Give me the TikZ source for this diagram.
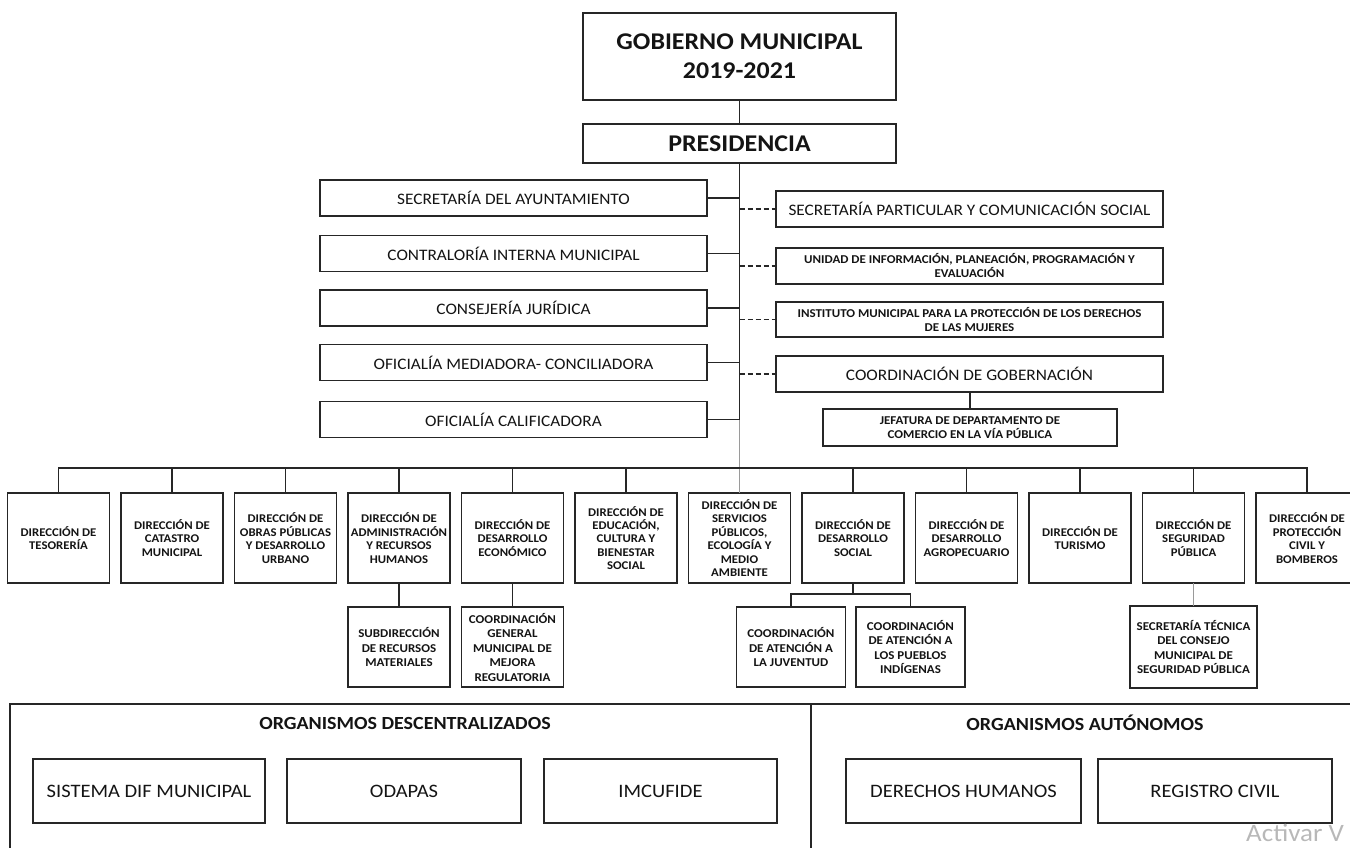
\documentclass[tikz,border=0pt]{standalone}
\usepackage{fontspec}
\setmainfont{Carlito}[FakeStretch=1.08]
\definecolor{ink}{HTML}{141414}
\definecolor{edge}{HTML}{262626}
\definecolor{grayline}{HTML}{9A9A9A}
\definecolor{wm}{HTML}{B8B8B8}
\tikzset{
 box/.style={draw=edge, line width=1.4pt, fill=white, inner sep=0pt, outer sep=0pt, align=center, text=ink},
 headbox/.style={box, minimum width=313pt, font=\fontsize{24}{29}\selectfont\bfseries},
 unitbox/.style={box, minimum width=387pt, minimum height=36pt, font=\fontsize{16}{18}\selectfont},
 unitsmall/.style={box, minimum width=387pt, minimum height=36pt, font=\fontsize{12}{14}\selectfont\bfseries},
 dirbox/.style={box, minimum width=102pt, minimum height=90pt, font=\fontsize{11.8}{13.4}\selectfont\bfseries},
 subbox/.style={box, minimum width=102pt, minimum height=80pt, font=\fontsize{12}{14.5}\selectfont\bfseries},
 orgbox/.style={box, minimum height=64pt, font=\fontsize{19}{22}\selectfont},
 orghead/.style={inner sep=0pt, text=ink, font=\fontsize{18.5}{22}\selectfont\bfseries},
 link/.style={draw=edge, line width=1.3pt},
 dlink/.style={draw=edge, line width=1.2pt, dash pattern=on 5pt off 3pt},
 glink/.style={draw=grayline, line width=1.7pt},
}
\begin{document}
\begin{tikzpicture}[x=1pt,y=-1pt]
\useasboundingbox (0,0) rectangle (1350,848);
% top
\node[headbox, minimum height=87pt] (gob) at (739.5,56.5) {GOBIERNO MUNICIPAL\\2019-2021};
\node[headbox, minimum height=39pt] (pres) at (739.5,143.5) {PRESIDENCIA};
\draw[link] (gob) -- (pres);
% left column
\node[unitbox] (sa) at (513.5,198) {SECRETARÍA DEL AYUNTAMIENTO};
\node[unitbox] (ci) at (513.5,253.5) {CONTRALORÍA INTERNA MUNICIPAL};
\node[unitbox] (cj) at (513.5,308) {CONSEJERÍA JURÍDICA};
\node[unitbox] (om) at (513.5,362.5) {OFICIALÍA MEDIADORA- CONCILIADORA};
\node[unitbox] (oc) at (513.5,419.5) {OFICIALÍA CALIFICADORA};
% right column
\node[unitbox] (sp) at (969.5,209) {SECRETARÍA PARTICULAR Y COMUNICACIÓN SOCIAL};
\node[unitsmall] (ui) at (969.5,266) {UNIDAD DE INFORMACIÓN, PLANEACIÓN, PROGRAMACIÓN Y\\EVALUACIÓN};
\node[unitsmall, minimum height=35pt] (im) at (969.5,319.5) {INSTITUTO MUNICIPAL PARA LA PROTECCIÓN DE LOS DERECHOS\\DE LAS MUJERES};
\node[unitbox] (cg) at (969.5,374) {COORDINACIÓN DE GOBERNACIÓN};
\node[unitsmall, minimum width=294pt, minimum height=37pt] (jf) at (970,427.5) {JEFATURA DE DEPARTAMENTO DE\\COMERCIO EN LA VÍA PÚBLICA};
\draw[link] (cg.south -| jf.north) -- (jf.north);
% directions row
\node[dirbox] (d1) at (58.5,538) {DIRECCIÓN DE\\TESORERÍA};
\node[dirbox] (d2) at (172,538) {DIRECCIÓN DE\\CATASTRO\\MUNICIPAL};
\node[dirbox] (d3) at (285.5,538) {DIRECCIÓN DE\\OBRAS PÚBLICAS\\Y DESARROLLO\\URBANO};
\node[dirbox] (d4) at (399,538) {DIRECCIÓN DE\\ADMINISTRACIÓN\\Y RECURSOS\\HUMANOS};
\node[dirbox] (d5) at (512.5,538) {DIRECCIÓN DE\\DESARROLLO\\ECONÓMICO};
\node[dirbox] (d6) at (626,538) {DIRECCIÓN DE\\EDUCACIÓN,\\CULTURA Y\\BIENESTAR\\SOCIAL};
\node[dirbox] (d7) at (739.5,538) {DIRECCIÓN DE\\SERVICIOS\\PÚBLICOS,\\ECOLOGÍA Y\\MEDIO\\AMBIENTE};
\node[dirbox] (d8) at (853,538) {DIRECCIÓN DE\\DESARROLLO\\SOCIAL};
\node[dirbox] (d9) at (966.5,538) {DIRECCIÓN DE\\DESARROLLO\\AGROPECUARIO};
\node[dirbox] (d10) at (1080,538) {DIRECCIÓN DE\\TURISMO};
\node[dirbox] (d11) at (1193.5,538) {DIRECCIÓN DE\\SEGURIDAD\\PÚBLICA};
\node[dirbox] (d12) at (1307,538) {DIRECCIÓN DE\\PROTECCIÓN\\CIVIL Y\\BOMBEROS};
% main trunk
\coordinate (mj) at (pres.south |- oc.east);
\draw[link] (pres.south) -- (mj);
\draw[glink] (mj) -- (d7.north);
\foreach \n in {sa,ci,cj,om,oc} \draw[link] (\n.east) -- (\n.east -| mj);
\foreach \n in {sp,ui,im,cg} \draw[dlink] (\n.west -| mj) -- (\n.west);
% bus
\draw[link] (d1.north) -- ++(0,-25) -| (d12.north);
\foreach \n in {d2,d3,d4,d5,d6,d8,d9,d10,d11} \draw[link] (\n.north) -- ++(0,-25);
% sub boxes
\node[subbox] (s1) at (399,647) {SUBDIRECCIÓN\\DE RECURSOS\\MATERIALES};
\node[subbox] (s2) at (512.5,647) {COORDINACIÓN\\GENERAL\\MUNICIPAL DE\\MEJORA\\REGULATORIA};
\node[subbox, minimum width=109pt] (s3) at (791,647) {COORDINACIÓN\\DE ATENCIÓN A\\LA JUVENTUD};
\node[subbox, minimum width=109pt] (s4) at (910.5,647) {COORDINACIÓN\\DE ATENCIÓN A\\LOS PUEBLOS\\INDÍGENAS};
\node[subbox, minimum width=127pt, minimum height=82pt] (s5) at (1193.5,647) {SECRETARÍA TÉCNICA\\DEL CONSEJO\\MUNICIPAL DE\\SEGURIDAD PÚBLICA};
\draw[link] (d4.south) -- (s1.north);
\draw[link] (d5.south) -- (s2.north);
\draw[link] (d8.south) -- ++(0,11);
\draw[link] (s3.north) -- ++(0,-13) -| (s4.north);
\draw[glink] (d11.south) -- (s5.north);
% bottom section
\draw[draw=edge, line width=1.4pt] (10,704) rectangle (1370,880);
\draw[draw=edge, line width=1.4pt] (811,704) -- (811,880);
\node[orghead] (hd) at (405,723) {ORGANISMOS DESCENTRALIZADOS};
\node[orghead] (ha) at (1085,723) {ORGANISMOS AUTÓNOMOS};
\node[orgbox, minimum width=232pt] (o1) at (149,791) {SISTEMA DIF MUNICIPAL};
\node[orgbox, minimum width=234pt] (o2) at (404,791) {ODAPAS};
\node[orgbox, minimum width=233pt] (o3) at (660.5,791) {IMCUFIDE};
\node[orgbox, minimum width=235pt] (o4) at (963.5,791) {DERECHOS HUMANOS};
\node[orgbox, minimum width=234pt] (o5) at (1215,791) {REGISTRO CIVIL};
\node[anchor=base west, inner sep=0pt, text=wm, font=\fontsize{25}{25}\selectfont] (act) at (1246,841) {Activar V};
\end{tikzpicture}
\end{document}
